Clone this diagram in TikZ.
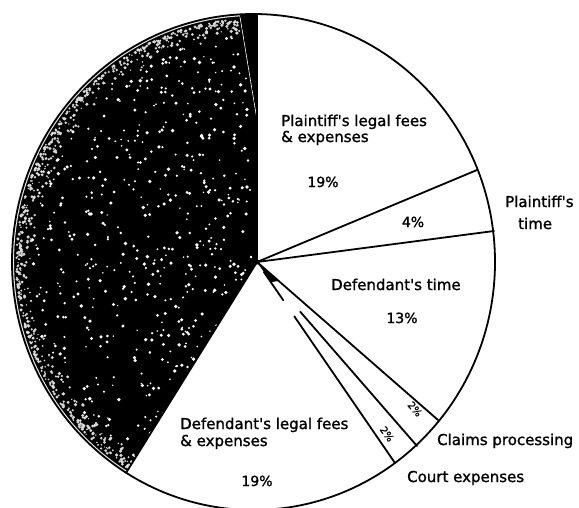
\documentclass[tikz,border=0pt]{standalone}
\usepackage{fontspec}
\setmainfont{DejaVu Sans}
\newfontfamily\lblfont{DejaVu Sans}[FakeBold=1.3]
\usetikzlibrary{calc}
\begin{document}
\begin{tikzpicture}[x=1pt,y=-1pt,
  lbl/.style={font=\lblfont\fontsize{15}{17}\selectfont, inner sep=0pt},
  pct/.style={font=\lblfont\fontsize{14}{16}\selectfont, inner sep=0pt},
  small/.style={font=\lblfont\fontsize{10}{11}\selectfont, inner sep=0pt},
  edge/.style={line width=1.8pt, line cap=round},
  rimring/.style={even odd rule}]
\fill[white] (0,0) rectangle (579,507);
\useasboundingbox (0,0) rectangle (579,507);
% geometry
\coordinate (O) at (257,262);
\coordinate (C) at (253.5,262);
\coordinate (T) at (257,14);
\coordinate (PL) at (477,170);
\coordinate (PT) at (494,231);
\coordinate (DT) at (438,420);
\coordinate (CP) at (417,446);
\coordinate (CE) at (395,463);
\coordinate (DL) at (126,473);
\coordinate (W1) at (240,15);
\coordinate (W2) at (257,118);
% dark slice, solid part
\begin{scope}
  \clip (O) -- (257,-5) -- (-10,-5) -- (-10,520) -- (87,536) -- cycle;
  \fill[black] (C) ellipse [x radius=241.5pt, y radius=248pt];
\end{scope}
% stippled part
\begin{scope}
  \clip (O) -- (W2) -- (236.7,-5) -- (-10,-5) -- (-10,520) -- (87,536) -- cycle;
  \fill[black!8, rimring] (C) ellipse [x radius=241.5pt, y radius=248pt]
       (C) ellipse [x radius=239.5pt, y radius=246pt];
  \pgfmathsetseed{4242}
  \foreach \i in {1,...,520} {
    \pgfmathsetmacro\ang{92+147*rnd}
    \pgfmathsetmacro\rr{0.93*sqrt(rnd)}
    \pgfmathsetmacro\ds{0.8+1.1*rnd}
    \fill[white] ({253.5+\rr*241.5*cos(\ang)},{262-\rr*248*sin(\ang)}) circle (\ds pt);
  }
  \foreach \i in {1,...,700} {
    \pgfmathsetmacro\ang{92+147*rnd}
    \pgfmathsetmacro\rr{0.982-0.085*rnd*rnd}
    \pgfmathsetmacro\ds{0.7+1.1*rnd}
    \fill[white!85!black] ({253.5+\rr*241.5*cos(\ang)},{262-\rr*248*sin(\ang)}) circle (\ds pt);
  }
  \draw[white, line width=1.2pt] (W1) -- (W2);
\end{scope}
% slice boundaries
\draw[edge] (O) -- (T);
\draw[edge] (O) -- (PL);
\draw[edge] (O) -- (PT);
\draw[edge] (O) -- (DT);
\draw[edge] (O) -- (DL);
\draw[edge] ($(O)!0.27!(CP)$) -- (CP);
\draw[edge] ($(O)!0.05!(CE)$) -- ($(O)!0.19!(CE)$);
\draw[edge] ($(O)!0.27!(CE)$) -- (CE);
\fill[black] (O) -- ($(O)!0.12!(DT)$) -- ($(O)!0.1!(CE)$) -- cycle;
\fill[black] (O) circle (2.5pt);
% outline
\draw[line width=1.8pt] (C) ellipse [x radius=241.5pt, y radius=248pt];
% labels
\node[lbl, anchor=base west] (plf1) at (281,126) {Plaintiff's legal fees};
\node[lbl, anchor=base west] (plf2) at (281,142) {\& expenses};
\node[pct, anchor=base] (plfp) at (323,187) {19\%};
\node[pct, anchor=base] (ptp) at (413,227) {4\%};
\node[lbl, anchor=base west] (pt1) at (505,207) {Plaintiff's};
\node[lbl, anchor=base west] (pt2) at (518,229) {time};
\node[lbl, anchor=base west] (dt1) at (331,290) {Defendant's time};
\node[pct, anchor=base] (dtp) at (402,323) {13\%};
\node[small, rotate=-50] (cpp) at (415,409) {2\%};
\node[small, rotate=-55] (cep) at (387,434) {2\%};
\node[lbl, anchor=base west] (cpl) at (437,445) {Claims processing};
\node[lbl, anchor=base west] (cel) at (407,482) {Court expenses};
\node[lbl, anchor=base west] (dl1) at (180,429) {Defendant's legal fees};
\node[lbl, anchor=base west] (dl2) at (180,446) {\& expenses};
\node[pct, anchor=base] (dlp) at (257,486) {19\%};
\end{tikzpicture}
\end{document}
